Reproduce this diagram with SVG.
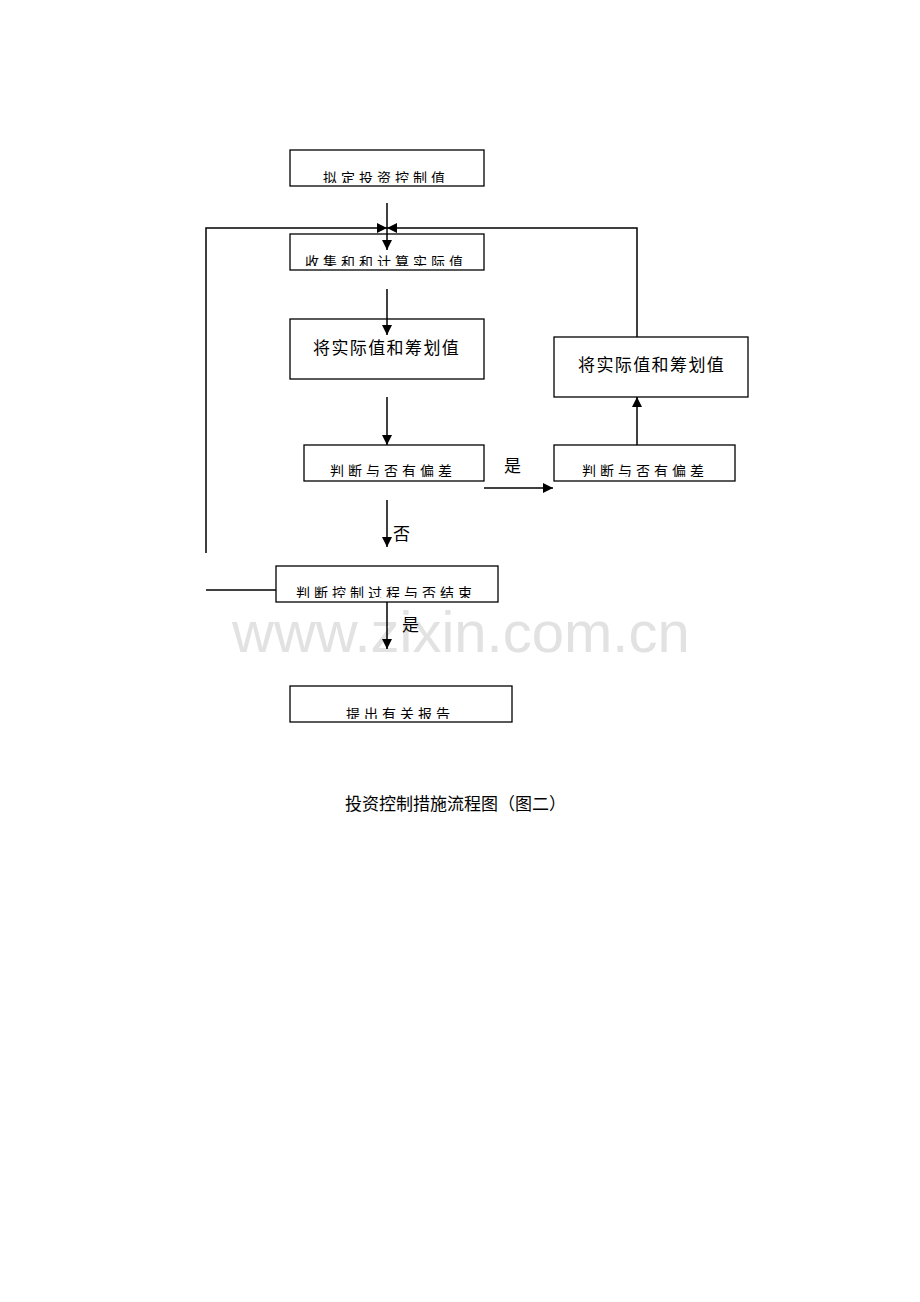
<svg xmlns="http://www.w3.org/2000/svg" width="920" height="1302" viewBox="0 0 920 1302">
<style>
.box{fill:#fff;stroke:#000;stroke-width:1.3}
.ln{fill:none;stroke:#000;stroke-width:1.5}
.t{font-family:"Noto Sans CJK SC","Liberation Sans",sans-serif;font-size:14px;letter-spacing:4px;fill:#000}
.tb{font-family:"Noto Sans CJK SC","Liberation Sans",sans-serif;font-size:17px;letter-spacing:1.4px;fill:#000}
.lab{font-family:"Noto Sans CJK SC",sans-serif;font-size:17px;fill:#000}
.cap{font-family:"Noto Sans CJK SC",sans-serif;font-size:17px;fill:#000}
.wm{font-family:"Liberation Sans",Arial,sans-serif;font-size:58px;fill:#e2e2e2}
</style>
<defs>
<marker id="ah" viewBox="0 0 10 10" refX="10" refY="5" markerWidth="10" markerHeight="10" markerUnits="userSpaceOnUse" orient="auto">
<path d="M0,0 L10,5 L0,10 Z" fill="#000"/>
</marker>
<clipPath id="c1"><rect x="291" y="151" width="192" height="32"/></clipPath>
<clipPath id="c2"><rect x="291" y="235" width="192" height="31"/></clipPath>
<clipPath id="c4"><rect x="305" y="446" width="178" height="31"/></clipPath>
<clipPath id="c5"><rect x="555" y="446" width="179" height="31"/></clipPath>
<clipPath id="c7"><rect x="277" y="567" width="220" height="31"/></clipPath>
<clipPath id="c8"><rect x="291" y="687" width="220" height="32"/></clipPath>
</defs>
<text class="wm" x="232" y="652">www.zixin.com.cn</text>
<g id="n1"><rect class="box" x="290" y="150" width="194" height="36"/><text class="t" x="323" y="183" clip-path="url(#c1)">拟定投资控制值</text></g>
<g id="n2"><rect class="box" x="290" y="234" width="194" height="36"/><text class="t" x="305" y="267" clip-path="url(#c2)">收集和和计算实际值</text></g>
<g id="n3"><rect class="box" x="290" y="319" width="194" height="60"/><text class="tb" x="313" y="354">将实际值和筹划值</text></g>
<g id="n4"><rect class="box" x="304" y="445" width="180" height="36"/><text class="t" x="330" y="476" clip-path="url(#c4)">判断与否有偏差</text></g>
<g id="n5"><rect class="box" x="554" y="445" width="181" height="36"/><text class="t" x="582" y="476" clip-path="url(#c5)">判断与否有偏差</text></g>
<g id="n6"><rect class="box" x="554" y="337" width="194" height="60"/><text class="tb" x="578" y="371">将实际值和筹划值</text></g>
<g id="n7"><rect class="box" x="276" y="566" width="222" height="36"/><text class="t" x="296" y="598" clip-path="url(#c7)">判断控制过程与否结束</text></g>
<g id="n8"><rect class="box" x="290" y="686" width="222" height="36"/><text class="t" x="346" y="719" clip-path="url(#c8)">提出有关报告</text></g>
<g id="connectors">
<line class="ln" x1="387" y1="203" x2="387" y2="250" marker-end="url(#ah)"/>
<polyline class="ln" points="206,553 206,228 387,228" marker-end="url(#ah)"/>
<polyline class="ln" points="637,337 637,228 387,228" marker-end="url(#ah)"/>
<line class="ln" x1="387" y1="289" x2="387" y2="335" marker-end="url(#ah)"/>
<line class="ln" x1="387" y1="397" x2="387" y2="445" marker-end="url(#ah)"/>
<line class="ln" x1="484" y1="488" x2="553" y2="488" marker-end="url(#ah)"/>
<line class="ln" x1="637" y1="445" x2="637" y2="397" marker-end="url(#ah)"/>
<line class="ln" x1="387" y1="500" x2="387" y2="547" marker-end="url(#ah)"/>
<line class="ln" x1="206" y1="590" x2="276" y2="590"/>
<line class="ln" x1="387" y1="602" x2="387" y2="649" marker-end="url(#ah)"/>
</g>
<text class="lab" x="504" y="472">是</text>
<text class="lab" x="393" y="540">否</text>
<text class="lab" x="402" y="631">是</text>
<text class="cap" x="345" y="810">投资控制措施流程图（图二）</text>
</svg>
